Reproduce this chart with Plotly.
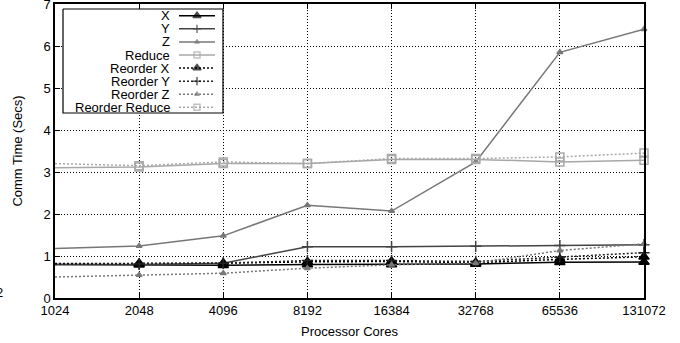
import plotly.graph_objects as go

cores = [1024, 2048, 4096, 8192, 16384, 32768, 65536, 131072]
tick_labels = ["1024", "2048", "4096", "8192", "16384", "32768", "65536", "131072"]

x_comm = [0.80, 0.79, 0.78, 0.80, 0.80, 0.81, 0.85, 0.86]
y_comm = [0.80, 0.80, 0.83, 1.22, 1.22, 1.23, 1.25, 1.27]
z_comm = [1.18, 1.24, 1.48, 2.21, 2.07, 3.24, 5.85, 6.40]
reduce_comm = [3.10, 3.12, 3.20, 3.20, 3.30, 3.30, 3.24, 3.28]
rx_comm = [0.82, 0.82, 0.83, 0.86, 0.87, 0.84, 0.92, 0.98]
ry_comm = [0.80, 0.81, 0.83, 0.89, 0.89, 0.87, 0.97, 1.08]
rz_comm = [0.50, 0.55, 0.59, 0.71, 0.79, 0.83, 1.13, 1.29]
rreduce_comm = [3.20, 3.15, 3.24, 3.20, 3.32, 3.32, 3.36, 3.45]

DOT = "2px,2px"
series = [
    ("X", x_comm, "#000000", "solid", "triangle-up", 9),
    ("Y", y_comm, "#444444", "solid", "cross-thin", 8),
    ("Z", z_comm, "#777777", "solid", "triangle-up", 5),
    ("Reduce", reduce_comm, "#a8a8a8", "solid", "square-open", 8),
    ("Reorder X", rx_comm, "#000000", DOT, "triangle-up", 9),
    ("Reorder Y", ry_comm, "#222222", DOT, "cross-thin", 8),
    ("Reorder Z", rz_comm, "#777777", DOT, "triangle-up", 5),
    ("Reorder Reduce", rreduce_comm, "#a8a8a8", DOT, "square-open", 8),
]

FONT = "Liberation Sans, Arial, Helvetica, sans-serif"
FS = 13

fig = go.Figure()
for name, vals, col, dash, sym, sz in series:
    fig.add_trace(go.Scatter(
        x=cores, y=vals, mode="lines+markers", name=name,
        line=dict(color=col, width=1.5, dash=dash),
        marker=dict(symbol=sym, size=sz, color=col, line=dict(color=col, width=1.5)),
        showlegend=False, cliponaxis=False,
    ))

# Legend drawn in pixel space on an overlay axis
LX0, LX1, LY0, LY1 = 63, 223, 9, 113
fig.add_trace(go.Scatter(
    x=[LX0, LX1, LX1, LX0, LX0], y=[LY0, LY0, LY1, LY1, LY0],
    mode="lines", fill="toself", fillcolor="white",
    line=dict(color="black", width=1.2), xaxis="x2", yaxis="y2",
    showlegend=False, hoverinfo="skip",
))
row0, rowstep = 15.8, 13.07
annotations = []
for i, (name, vals, col, dash, sym, sz) in enumerate(series):
    ry = row0 + i * rowstep
    msz = max(sz - 2, 4)
    fig.add_trace(go.Scatter(
        x=[179, 197, 215], y=[ry, ry, ry], mode="lines+markers",
        line=dict(color=col, width=1.5, dash=dash),
        marker=dict(symbol=sym, size=[0, msz, 0], color=col, line=dict(color=col, width=1.5)),
        xaxis="x2", yaxis="y2", showlegend=False, hoverinfo="skip",
    ))
    annotations.append(dict(
        x=171, y=ry, xref="x2", yref="y2", text=name, showarrow=False,
        xanchor="right", yanchor="middle", borderpad=0,
        font=dict(size=FS, color="black", family=FONT),
    ))

annotations.append(dict(
    x=-0.087, y=0.02, xref="paper", yref="paper", text="2", showarrow=False,
    xanchor="right", yanchor="middle", borderpad=0,
    font=dict(size=FS, color="black", family=FONT),
))

fig.update_layout(
    width=680, height=343,
    margin=dict(l=55, r=36, t=4, b=45),
    paper_bgcolor="white", plot_bgcolor="white",
    font=dict(family=FONT, size=FS, color="black"),
    annotations=annotations,
    xaxis=dict(
        type="log", range=[3.0103, 5.11751], tickvals=cores, ticktext=tick_labels,
        showgrid=True, gridcolor="black", griddash="1px,2px", gridwidth=1,
        showline=True, linecolor="black", linewidth=1.5, mirror="ticks",
        ticks="inside", ticklen=5, tickcolor="black", ticklabeloverflow="allow",
        automargin=False,
        title=dict(text="Processor Cores", font=dict(size=FS), standoff=10),
        zeroline=False,
    ),
    yaxis=dict(
        range=[0, 7], tickvals=list(range(8)),
        showgrid=True, gridcolor="black", griddash="1px,2px", gridwidth=1,
        showline=True, linecolor="black", linewidth=1.5, mirror="ticks",
        ticks="inside", ticklen=5, tickcolor="black", ticklabeloverflow="allow",
        automargin=False,
        title=dict(text="Comm Time (Secs)", font=dict(size=FS), standoff=18),
        zeroline=False,
    ),
    xaxis2=dict(overlaying="x", anchor="y2", range=[55, 644], visible=False, fixedrange=True),
    yaxis2=dict(overlaying="y", anchor="x2", range=[298, 4], visible=False, fixedrange=True),
)

fig.write_html("out.html")
